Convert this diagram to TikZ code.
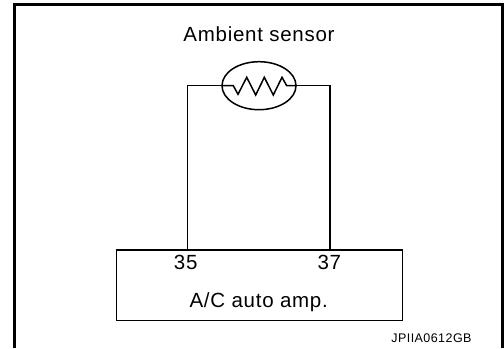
\documentclass[tikz,border=0pt]{standalone}
\usepackage{fontspec}
\setmainfont[LetterSpace=3.5]{Liberation Sans}
\usetikzlibrary{shapes.geometric}
\begin{document}
\begin{tikzpicture}[x=1bp,y=-1bp,
		FrameStyle/.style = {draw=black,line width=3bp},
		WireStyle/.style = {draw=black,line width=1.5bp},
		SensorStyle/.style = {draw=black,shape=ellipse,line width=1.5bp,minimum width=74bp,minimum height=48bp,inner sep=0pt},
		AmpStyle/.style = {draw=black,shape=rectangle,line width=1.5bp,minimum width=286bp,minimum height=70.5bp,inner sep=0pt},
		LabelStyle/.style = {font=\fontsize{20.5bp}{24bp}\selectfont,inner sep=0pt,anchor=base},
		CodeStyle/.style = {font=\fontsize{12.5bp}{15bp}\selectfont,inner sep=0pt,anchor=base east}]
		\useasboundingbox (0,0) rectangle (504,348);
		%outer frame, open at the bottom
		\draw[FrameStyle] (14.5,348) -- (14.5,4.5) -- (502.5,4.5) -- (502.5,348);
		\node[LabelStyle] (title) at (259,41.7) {Ambient sensor};
		\node[SensorStyle] (sensor) at (259,85.7) {};
		\node[AmpStyle] (amp) at (259.5,285.3) {};
		\coordinate (pinL) at (187.7,250);
		\coordinate (pinR) at (330,250);
		\node[LabelStyle] (label35) at (185.7,269.3) {35};
		\node[LabelStyle] (label37) at (329.3,269.3) {37};
		\node[LabelStyle] (ampname) at (258.7,307.3) {A/C auto amp.};
		\node[CodeStyle] (code) at (471.7,342.7) {JPIIA0612GB};
		\draw[WireStyle] (sensor.west) -| (pinL);
		\draw[WireStyle] (sensor.east) -| (pinR);
		%resistor inside the sensor
		\draw[WireStyle] (sensor.west) -- (233.3,85.7) -- (238,94.3) -- (246.7,77.3) -- (255.7,95) -- (264.3,77.3) -- (273.3,95) -- (282,77.3) -- (286.7,85.7) -- (sensor.east);
	\end{tikzpicture}
\end{document}
